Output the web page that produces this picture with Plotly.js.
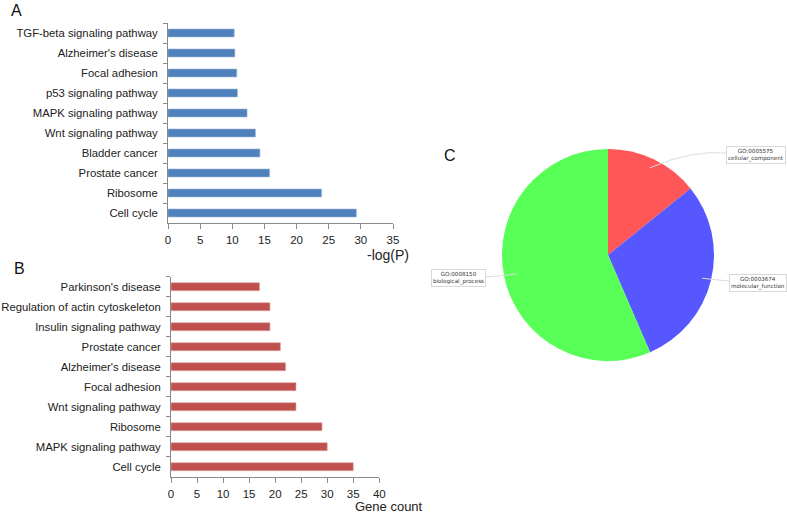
<!DOCTYPE html>
<html><head><meta charset="utf-8">
<script src="https://cdn.plot.ly/plotly-3.0.1.min.js"></script>
<style>html,body{margin:0;padding:0;background:#fff}#chart{width:787px;height:514px}</style>
</head><body><div id="chart"></div>
<script>
// Panel A: KEGG pathways, -log(P)
const catsA = ['TGF-beta signaling pathway', "Alzheimer's disease", 'Focal adhesion', 'p53 signaling pathway', 'MAPK signaling pathway', 'Wnt signaling pathway', 'Bladder cancer', 'Prostate cancer', 'Ribosome', 'Cell cycle'];
const valsA = [10.3, 10.4, 10.7, 10.8, 12.3, 13.6, 14.3, 15.8, 23.9, 29.3];
// Panel B: KEGG pathways, gene count
const catsB = ["Parkinson's disease", 'Regulation of actin cytoskeleton', 'Insulin signaling pathway', 'Prostate cancer', "Alzheimer's disease", 'Focal adhesion', 'Wnt signaling pathway', 'Ribosome', 'MAPK signaling pathway', 'Cell cycle'];
const valsB = [17, 19, 19, 21, 22, 24, 24, 29, 30, 35];
// Panel C: GO categories
const goIds = ['GO:0005575', 'GO:0003674', 'GO:0008150'];
const goNames = ['cellular_component', 'molecular_function', 'biological_process'];
const goValues = [14.2, 29.3, 56.5];
const goColors = ['#FF5757', '#5757FF', '#57FF57'];

const W = 787, H = 514;
const px = x => x / W, py = y => 1 - y / H;
const font = 'Liberation Sans, Arial, sans-serif';
const axisGray = '#8a8a8a';

const barA = {type: 'bar', orientation: 'h', y: catsA, x: valsA, xaxis: 'x', yaxis: 'y',
  marker: {color: '#4F81BD', line: {color: '#9DB7DA', width: 0.6}}, width: 0.4, hoverinfo: 'x+y'};
const barB = {type: 'bar', orientation: 'h', y: catsB, x: valsB, xaxis: 'x2', yaxis: 'y2',
  marker: {color: '#C0504D', line: {color: '#E0A3A1', width: 0.6}}, width: 0.4, hoverinfo: 'x+y'};

// pie geometry (pixels)
const cx = 608, cy = 255, R = 106;
const pie = {type: 'pie', values: goValues, labels: goNames, sort: false, direction: 'clockwise', rotation: 0,
  marker: {colors: goColors, line: {width: 0}}, textinfo: 'none', showlegend: false,
  domain: {x: [px(cx - R), px(cx + R)], y: [py(cy + R), py(cy - R)]}};

const xCommon = {showgrid: false, zeroline: false, showline: true, linecolor: axisGray, linewidth: 1,
  ticks: 'outside', ticklen: 5, tickcolor: axisGray, dtick: 5, tick0: 0,
  tickfont: {family: font, size: 11.5, color: '#222'}, ticklabelstandoff: 1, fixedrange: true};
const yCommon = {type: 'category', autorange: 'reversed', showgrid: false, zeroline: false, showline: true,
  linecolor: axisGray, linewidth: 1, ticks: 'outside', ticklen: 4, tickcolor: axisGray, tickson: 'boundaries',
  tickfont: {family: font, size: 11.3, color: '#222'}, ticklabelstandoff: 7, fixedrange: true};

// connectors from slice mid-angles to label boxes
const total = goValues.reduce((a, b) => a + b, 0);
let acc = 0;
const mids = goValues.map(v => { const m = (acc + v / 2) / total * 2 * Math.PI; acc += v; return m; });
const boxes = [
  {cx: 755.5, cy: 154.5, ex: 727, ey: 153, ctrl: [690, 150]},
  {cx: 758, cy: 282.5, ex: 730, ey: 281, ctrl: [716, 280]},
  {cx: 458, cy: 278, ex: 486, ey: 277, ctrl: [500, 276]}
];
const radFrac = [0.91, 0.915, 0.88];
const shapes = [], annotations = [];
goValues.forEach((v, i) => {
  const a = mids[i];
  const sx = cx + R * radFrac[i] * Math.sin(a), sy = cy - R * radFrac[i] * Math.cos(a);
  const b = boxes[i];
  shapes.push({type: 'path', xref: 'paper', yref: 'paper',
    path: `M ${px(sx)} ${py(sy)} Q ${px(b.ctrl[0])} ${py(b.ctrl[1])} ${px(b.ex)} ${py(b.ey)}`,
    line: {color: '#dcdcdc', width: 1}});
  annotations.push({xref: 'paper', yref: 'paper', x: px(b.cx), y: py(b.cy), xanchor: 'center', yanchor: 'middle',
    text: goIds[i] + '<br>' + goNames[i], showarrow: false, align: 'center',
    font: {family: 'DejaVu Sans, sans-serif', size: 5.6, color: '#333'},
    bgcolor: '#ffffff', bordercolor: '#d8d8d8', borderwidth: 1, borderpad: 1});
});

annotations.push(
  {xref: 'paper', yref: 'paper', x: px(9), y: py(10), xanchor: 'left', yanchor: 'middle', text: 'A', showarrow: false, font: {family: font, size: 16, color: '#111'}},
  {xref: 'paper', yref: 'paper', x: px(12), y: py(268), xanchor: 'left', yanchor: 'middle', text: 'B', showarrow: false, font: {family: font, size: 16, color: '#111'}},
  {xref: 'paper', yref: 'paper', x: px(442), y: py(155), xanchor: 'left', yanchor: 'middle', text: 'C', showarrow: false, font: {family: font, size: 16, color: '#111'}},
  {xref: 'paper', yref: 'paper', x: px(388), y: py(255), xanchor: 'center', yanchor: 'middle', text: '-log(P)', showarrow: false, font: {family: font, size: 14, color: '#222'}},
  {xref: 'paper', yref: 'paper', x: px(389), y: py(506.5), xanchor: 'center', yanchor: 'middle', text: 'Gene count', showarrow: false, font: {family: font, size: 13, color: '#222'}}
);

const layout = {
  width: W, height: H, margin: {l: 0, r: 0, t: 0, b: 0}, paper_bgcolor: '#fff', plot_bgcolor: 'rgba(0,0,0,0)',
  showlegend: false, bargap: 0.6,
  xaxis: Object.assign({}, xCommon, {domain: [px(168), px(393)], range: [0, 35], anchor: 'y'}),
  yaxis: Object.assign({}, yCommon, {domain: [py(223), py(23)], anchor: 'x'}),
  xaxis2: Object.assign({}, xCommon, {domain: [px(171), px(379.3)], range: [0, 40], anchor: 'y2'}),
  yaxis2: Object.assign({}, yCommon, {domain: [py(476.7), py(276.7)], anchor: 'x2'}),
  shapes: shapes, annotations: annotations
};
Plotly.newPlot('chart', [barA, barB, pie], layout, {staticPlot: true});
</script></body></html>
